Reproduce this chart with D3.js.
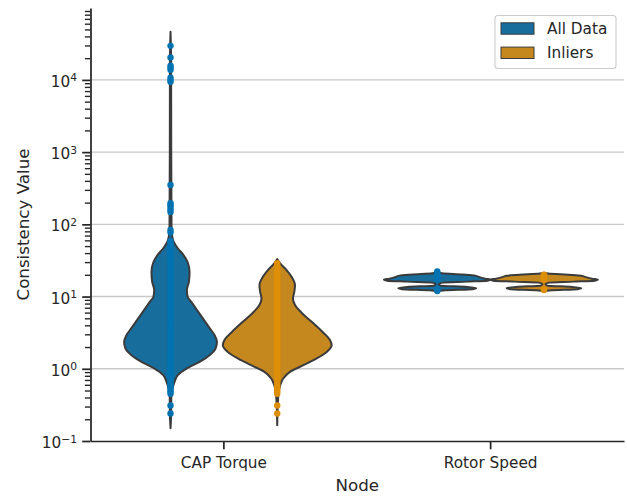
<!DOCTYPE html>
<html>
<head>
<meta charset="utf-8">
<script src="https://cdn.jsdelivr.net/npm/d3@7"></script>
<style>
  body { margin: 0; background: #fff; }
  svg text { font-family: "DejaVu Sans", sans-serif; fill: #262626; }
</style>
</head>
<body>
<div id="chart"></div>
<script>
'use strict';

// categories and hue groups
const nodes = ['CAP Torque', 'Rotor Speed']
const groups = ['All Data', 'Inliers']
const point_colors = ['#0173b2', '#de8f05']
const fill_colors = ['#176d9c', '#c4881f']

// y ticks (log) and their exponent labels
const y_ticks = [0.1, 1, 10, 100, 1000, 10000]
const y_exponents = ['\u22121', '0', '1', '2', '3', '4']

// violin outlines: value (bottom to top) and half width (1 = widest)
const cap_all_values = [0.150, 0.227, 0.431, 0.533, 0.658, 0.815, 1.01, 1.25, 1.54, 1.91, 2.36, 2.92, 3.66, 5.03, 6.92, 8.46, 9.93, 12.3, 16.0, 21.8, 30.1, 37.6, 47.0, 60.7, 83.4, 1070, 19000, 46300]
const cap_all_widths = [0, 0.011, 0.015, 0.038, 0.075, 0.137, 0.306, 0.545, 0.733, 0.846, 0.870, 0.827, 0.733, 0.602, 0.470, 0.389, 0.320, 0.306, 0.344, 0.357, 0.320, 0.244, 0.132, 0.047, 0.019, 0.013, 0.011, 0]

const cap_inlier_values = [0.165, 0.348, 0.479, 0.593, 0.734, 0.906, 1.12, 1.39, 1.71, 2.12, 2.49, 3.25, 4.47, 5.84, 7.62, 9.43, 11.6, 14.4, 18.8, 23.3, 28.8, 33.1]
const cap_inlier_widths = [0, 0.013, 0.028, 0.056, 0.113, 0.239, 0.489, 0.739, 0.927, 1.02, 0.991, 0.846, 0.645, 0.470, 0.333, 0.295, 0.320, 0.333, 0.269, 0.175, 0.056, 0]

const rotor_all_values = [11.7, 12.2, 12.6, 13.1, 13.6, 14.2, 14.9, 15.6, 16.1, 16.6, 17.2, 17.7, 18.6, 19.5, 20.2, 21.1, 21.8]
const rotor_all_widths = [0, 0.15, 0.66, 0.73, 0.56, 0.06, 0.03, 0.11, 0.56, 0.94, 1.0, 0.90, 0.79, 0.71, 0.47, 0.09, 0]

const rotor_inlier_values = [11.8, 12.2, 12.6, 13.1, 13.6, 14.2, 14.9, 15.6, 16.1, 16.6, 17.2, 17.7, 18.6, 19.4, 20.0, 20.8, 21.4]
const rotor_inlier_widths = [0, 0.14, 0.63, 0.70, 0.52, 0.06, 0.03, 0.10, 0.55, 0.95, 1.01, 0.90, 0.78, 0.70, 0.45, 0.08, 0]

// strip points
const cap_inlier_points = [0.24, 0.31, 0.45, 0.48, 0.51, 0.55, 0.59, 0.63, 0.68, 0.73, 0.79, 0.85, 0.92, 1.0, 1.08, 1.17, 1.27, 1.38, 1.5, 1.63, 1.77, 1.92, 2.1, 2.3, 2.5, 2.7, 2.95, 3.2, 3.5, 3.8, 4.15, 4.5, 4.9, 5.35, 5.8, 6.3, 6.9, 7.5, 8.2, 8.9, 9.7, 10.6, 11.5, 12.5, 13.6, 14.8, 16.1, 17.5, 19, 20.7, 22.5, 24.5, 26.7, 29]
const cap_outlier_points = [31.5, 34, 37, 40, 43.5, 47, 51, 55, 59, 77, 83.6, 148, 160, 174, 185, 197, 350, 9400, 10000, 10700, 13800, 14700, 15700, 20400, 29600]
const rotor_inlier_points = [12.3, 12.6, 17.1, 17.7, 18.4, 19.2, 20.0]
const rotor_outlier_points = [11.9, 21.4, 22.3]

const violins = [
  {node: nodes[0], group: 0, values: cap_all_values, widths: cap_all_widths, points: cap_inlier_points.concat(cap_outlier_points)},
  {node: nodes[0], group: 1, values: cap_inlier_values, widths: cap_inlier_widths, points: cap_inlier_points},
  {node: nodes[1], group: 0, values: rotor_all_values, widths: rotor_all_widths, points: rotor_inlier_points.concat(rotor_outlier_points)},
  {node: nodes[1], group: 1, values: rotor_inlier_values, widths: rotor_inlier_widths, points: rotor_inlier_points}
]

const dims = {width: 627, height: 497, left: 90.5, right: 624, top: 8, bottom: 441}

const svg = d3.select('#chart').append('svg')
  .attr('width', dims.width)
  .attr('height', dims.height)

const xScale = d3.scaleBand()
  .domain(nodes)
  .range([dims.left, dims.right])
  .padding(0)

const yScale = d3.scaleLog()
  .domain([0.1, 9.9e4])
  .range([dims.bottom, dims.top])

const half_max = xScale.bandwidth() * 0.2
const hue_offset = [-0.2, 0.2].map(d => d * xScale.bandwidth())

// grid
svg.append('g')
  .selectAll('line')
  .data(y_ticks.slice(1))
  .join('line')
  .attr('x1', dims.left)
  .attr('x2', dims.right)
  .attr('y1', d => yScale(d))
  .attr('y2', d => yScale(d))
  .attr('stroke', '#c8c8c8')
  .attr('stroke-width', 1.4)

// violins
const violin_g = svg.append('g')
violins.forEach(v => {
  const cx = xScale(v.node) + xScale.bandwidth() / 2 + hue_offset[v.group]
  const shape = v.values.map((val, i) => ({v: val, w: v.widths[i]}))
  const area_gen = d3.area()
    .y(d => yScale(d.v))
    .x0(d => cx - d.w * half_max)
    .x1(d => cx + d.w * half_max)
    .curve(d3.curveMonotoneY)
  violin_g.append('path')
    .datum(shape)
    .attr('d', area_gen)
    .attr('fill', fill_colors[v.group])
    .attr('stroke', '#3b3b3b')
    .attr('stroke-width', 2)
    .attr('stroke-linejoin', 'round')
})

// strip points
violins.forEach(v => {
  const cx = xScale(v.node) + xScale.bandwidth() / 2 + hue_offset[v.group]
  violin_g.append('g')
    .selectAll('circle')
    .data(v.points)
    .join('circle')
    .attr('cx', cx)
    .attr('cy', d => yScale(d))
    .attr('r', 3.2)
    .attr('fill', point_colors[v.group])
})

// y axis: minor ticks
const minor_ticks = yScale.ticks().filter(d => !y_ticks.some(t => Math.abs(t - d) / t < 1e-6))
svg.append('g')
  .attr('transform', `translate(${dims.left},0)`)
  .call(d3.axisLeft(yScale).tickValues(minor_ticks).tickSize(5.6).tickSizeOuter(0).tickFormat(''))
  .call(g => g.select('.domain').remove())
  .call(g => g.selectAll('.tick line').attr('stroke', '#262626').attr('stroke-width', 1.39))

// y axis: major ticks
const yAxisGroup = svg.append('g')
  .attr('transform', `translate(${dims.left},0)`)
  .call(d3.axisLeft(yScale).tickValues(y_ticks).tickSize(8.3).tickSizeOuter(0))
yAxisGroup.select('.domain').attr('stroke', '#262626').attr('stroke-width', 1.74)
yAxisGroup.selectAll('.tick line').attr('stroke', '#262626').attr('stroke-width', 1.74)
yAxisGroup.selectAll('.tick text').each(function(d, i) {
  const t = d3.select(this)
    .text(null)
    .attr('dy', null)
    .attr('x', -13.5)
    .attr('y', 6.5)
    .attr('font-size', 15.3)
    .style('font-family', '"DejaVu Sans", sans-serif')
  t.append('tspan').text('10')
  t.append('tspan').attr('dy', -5.5).attr('font-size', 10.7).text(y_exponents[i])
})

// x axis
const xAxisGroup = svg.append('g')
  .attr('transform', `translate(0,${dims.bottom})`)
  .call(d3.axisBottom(xScale).tickSize(8.3).tickSizeOuter(0))
xAxisGroup.select('.domain').attr('stroke', '#262626').attr('stroke-width', 1.74)
xAxisGroup.selectAll('.tick line').attr('stroke', '#262626').attr('stroke-width', 1.74)
xAxisGroup.selectAll('.tick text')
  .attr('dy', null)
  .attr('y', 27)
  .attr('font-size', 15.3)
  .style('font-family', '"DejaVu Sans", sans-serif')

// axis titles
svg.append('text')
  .attr('x', (dims.left + dims.right) / 2)
  .attr('y', 491)
  .attr('text-anchor', 'middle')
  .style('font-size', '16.7px')
  .text('Node')

svg.append('text')
  .attr('transform', `translate(28.5,${(dims.top + dims.bottom) / 2}) rotate(-90)`)
  .attr('text-anchor', 'middle')
  .style('font-size', '16.7px')
  .text('Consistency Value')

// legend
const legend_g = svg.append('g')
legend_g.append('rect')
  .attr('x', 495)
  .attr('y', 15.5)
  .attr('width', 121)
  .attr('height', 53)
  .attr('rx', 3)
  .attr('fill', 'white')
  .attr('fill-opacity', 0.8)
  .attr('stroke', '#cccccc')
  .attr('stroke-width', 1.1)

const legend_rows = legend_g.selectAll('g.row')
  .data(groups)
  .join('g')
  .attr('class', 'row')
  .attr('transform', (d, i) => `translate(0,${28.5 + i * 24.3})`)

legend_rows.append('rect')
  .attr('x', 501)
  .attr('y', -5.7)
  .attr('width', 33)
  .attr('height', 11.4)
  .attr('fill', (d, i) => fill_colors[i])
  .attr('stroke', '#3b3b3b')
  .attr('stroke-width', 1)

legend_rows.append('text')
  .attr('x', 547)
  .attr('y', 5.5)
  .style('font-size', '15.3px')
  .text(d => d)
</script>
</body>
</html>
